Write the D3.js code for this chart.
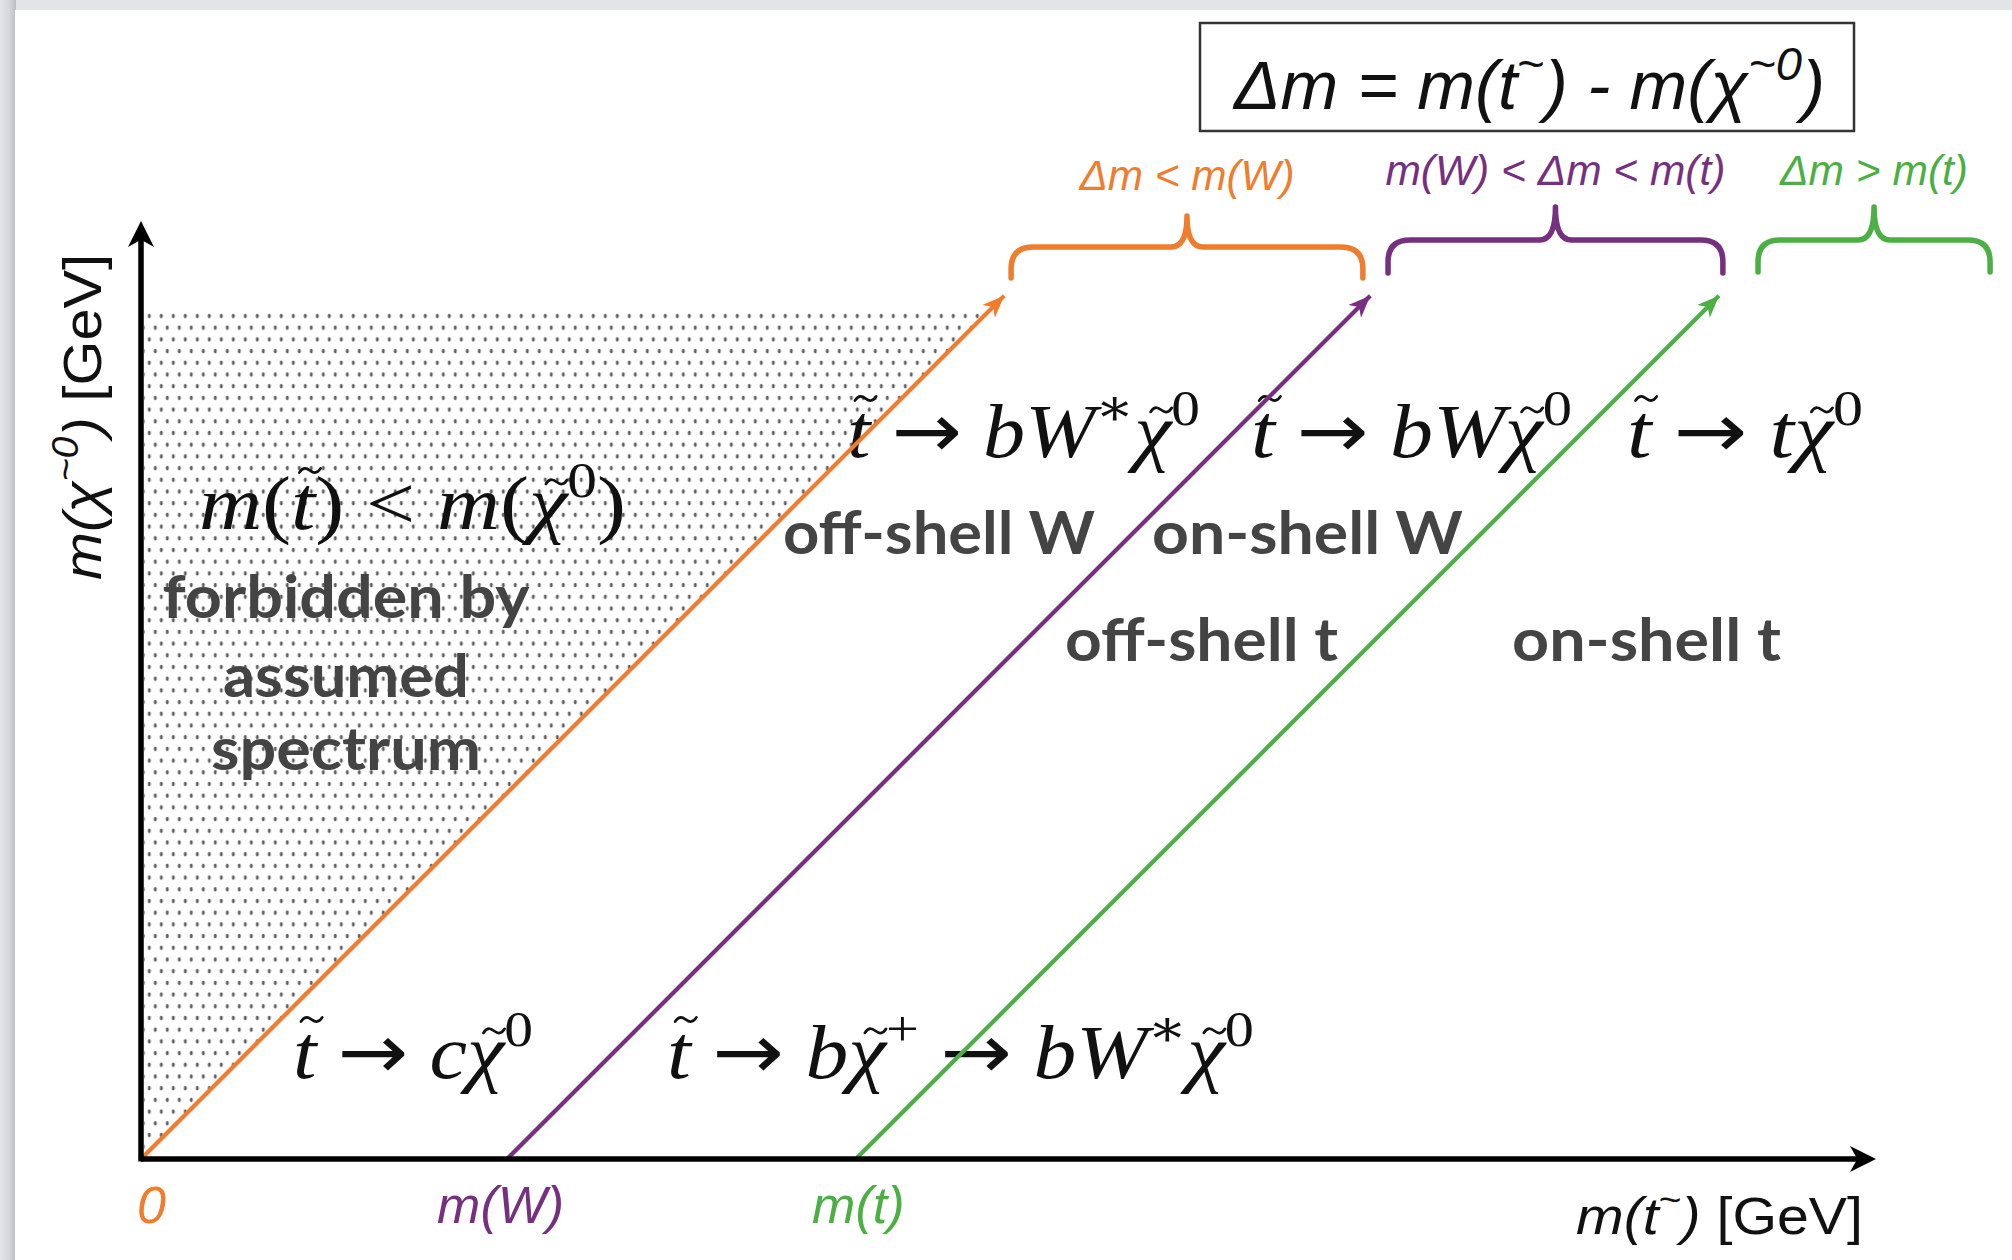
<!DOCTYPE html>
<html>
<head>
<meta charset="utf-8">
<script src="https://cdn.jsdelivr.net/npm/d3@7"></script>
<style>
  html, body { margin: 0; padding: 0; background: #dfe2e5; }
  svg { display: block; }
</style>
</head>
<body>
<svg id="chart" width="2012" height="1260"></svg>
<script>
// ---------------- data (schematic GeV-like units) ----------------
const regionLabels = ["Δm < m(W)", "m(W) < Δm < m(t)", "Δm > m(t)"];
const lineOffsets = [0, 84.4, 164.8];          // x-intercepts: 0, m(W), m(t)
const tickLabels = ["0", "m(W)", "m(t)"];
const lineTop = 199;                            // m(chi) where the diagonals end
const forbiddenTop = 195.3;                     // top of the forbidden (dotted) triangle
const braceRanges = [[200.6, 281.7], [287.5, 364.7], [372.8, 426.3]];
const colors = ["#ef7d2d", "#76307f", "#4caf44"];

// ---------------- setup ----------------
const svg = d3.select("#chart");
const X0 = 141, X1 = 1876, Y0 = 1159, YT = 221;
const x = d3.scaleLinear().domain([0, 400]).range([X0, X1]);
const k = (X1 - X0) / 400;
const y = d3.scaleLinear().domain([0, (Y0 - YT) / k]).range([Y0, YT]);

const defs = svg.append("defs");
const lg = defs.append("linearGradient").attr("id", "leftShade").attr("x1", 0).attr("x2", 1).attr("y1", 0).attr("y2", 0);
lg.append("stop").attr("offset", "0%").attr("stop-color", "#e3e5e8");
lg.append("stop").attr("offset", "60%").attr("stop-color", "#d3d6da");
lg.append("stop").attr("offset", "100%").attr("stop-color", "#b9bdc2");
const pat = defs.append("pattern").attr("id", "dots").attr("patternUnits", "userSpaceOnUse")
  .attr("x", 147.3).attr("y", 313).attr("width", 12).attr("height", 23.4);
pat.append("ellipse").attr("cx", 2).attr("cy", 3).attr("rx", 1.5).attr("ry", 2.3).attr("fill", "#5c5c5c");
pat.append("ellipse").attr("cx", 8).attr("cy", 14.7).attr("rx", 1.5).attr("ry", 2.3).attr("fill", "#5c5c5c");

// background / slide panel
svg.append("rect").attr("x", 0).attr("y", 0).attr("width", 2012).attr("height", 1260).attr("fill", "#e2e4e7");
svg.append("rect").attr("x", 0).attr("y", 0).attr("width", 16).attr("height", 1260).attr("fill", "url(#leftShade)");
svg.append("rect").attr("x", 15).attr("y", 10).attr("width", 1997).attr("height", 1250).attr("fill", "#ffffff");

// ---------------- forbidden region ----------------
svg.append("path")
  .attr("d", d3.line()([[x(0) + 3, y(0)], [x(0) + 3, y(forbiddenTop)], [x(forbiddenTop), y(forbiddenTop)], [x(0), y(0)]]))
  .attr("fill", "url(#dots)");

// ---------------- math text helper ----------------
// parts: [string, style, accent]; style: "i" italic, "r" roman, "s" sup roman, "si" sup italic, "a" arrow
// accent: "t" / "x" = draw a tilde over the first char of this part (tall / short letter)
function tildePath(cx, cy, w, h) {
  const p = d3.path();
  p.moveTo(cx - w / 2, cy + h * 0.55);
  p.bezierCurveTo(cx - w * 0.3, cy - h * 1.3, cx - w * 0.1, cy - h * 0.4, cx, cy);
  p.bezierCurveTo(cx + w * 0.1, cy + h * 0.4, cx + w * 0.3, cy + h * 1.3, cx + w / 2, cy - h * 0.55);
  return p.toString();
}
function mathText(parent, px, py, size, parts, opts = {}) {
  const fam = opts.family || "'Liberation Serif', 'DejaVu Serif', serif";
  const t = parent.append("text").attr("x", px).attr("y", py)
    .attr("font-family", fam)
    .attr("font-size", size).attr("fill", opts.fill || "#111")
    .attr("text-anchor", opts.anchor || "start");
  let raised = 0, idx = 0;
  const accents = [];
  parts.forEach(([s, st, acc]) => {
    const sp = t.append("tspan").text(s);
    const isSup = st.startsWith("s");
    const italic = st.endsWith("i");
    sp.attr("font-style", italic ? "italic" : "normal");
    if (st === "a") sp.attr("font-family", "'DejaVu Sans', sans-serif");
    if (isSup) {
      sp.attr("font-size", size * 0.68);
      const shift = size * 0.42;
      if (!raised) { sp.attr("dy", -shift); raised = shift; }
    } else {
      sp.attr("font-size", size);
      if (raised) { sp.attr("dy", raised); raised = 0; }
    }
    if (acc) accents.push([idx, acc]);
    idx += s.length;
  });
  if (opts.len) t.attr("textLength", opts.len).attr("lengthAdjust", "spacingAndGlyphs");
  accents.forEach(([ci, kind]) => {
    let ext;
    try { ext = t.node().getExtentOfChar(ci); } catch (e) { return; }
    const skew = kind === "t" ? 0.09 : 0.11;
    const rise = kind === "t" ? 0.77 : 0.62;
    const cx = ext.x + ext.width / 2 + size * skew;
    const cy = py - size * rise;
    parent.append("path").attr("d", tildePath(cx, cy, size * 0.28, size * 0.05))
      .attr("fill", "none").attr("stroke", opts.fill || "#111")
      .attr("stroke-width", size * 0.035).attr("stroke-linecap", "round");
  });
  return t;
}

const gText = svg.append("g");
const A = ["\u2005\u2192\u2005", "a"];
// decay-mode labels (LaTeX style)
mathText(gText, 847, 457, 76, [["t", "i", "t"], A, ["bW", "i"], ["\u2217", "s"], ["\u03C7", "i", "x"], ["0", "s"]], {len: 353});
mathText(gText, 1251, 457, 76, [["t", "i", "t"], A, ["bW", "i"], ["\u03C7", "i", "x"], ["0", "s"]], {len: 321});
mathText(gText, 1627, 457, 76, [["t", "i", "t"], A, ["t", "i"], ["\u03C7", "i", "x"], ["0", "s"]], {len: 236});
mathText(gText, 199, 529, 76, [["m", "i"], ["(", "r"], ["t", "i", "t"], [")", "r"], ["\u2005<\u2005", "r"], ["m", "i"], ["(", "r"], ["\u03C7", "i", "x"], ["0", "s"], [")", "r"]], {len: 427});
mathText(gText, 293, 1078, 76, [["t", "i", "t"], A, ["c", "i"], ["\u03C7", "i", "x"], ["0", "s"]], {len: 240});
mathText(gText, 667, 1078, 76, [["t", "i", "t"], A, ["b", "i"], ["\u03C7", "i", "x"], ["+", "s"], A, ["bW", "i"], ["\u2217", "s"], ["\u03C7", "i", "x"], ["0", "s"]], {len: 587});

// bold region descriptions
const bold = [
  ["forbidden by", 346, 618, "middle", 367],
  ["assumed", 346, 697, "middle", 246],
  ["spectrum", 346, 770, "middle", 270],
  ["off-shell W", 783, 554, "start", 312],
  ["on-shell W", 1152, 554, "start", 311],
  ["off-shell t", 1065, 661, "start", 273],
  ["on-shell t", 1512, 661, "start", 269]
];
bold.forEach(([s, px, py, anchor, len]) => {
  gText.append("text").attr("x", px).attr("y", py).attr("text-anchor", anchor)
    .attr("font-family", "Lato, 'Open Sans', sans-serif").attr("font-weight", 700)
    .attr("font-size", 60).attr("fill", "#444444")
    .attr("textLength", len).attr("lengthAdjust", "spacingAndGlyphs").text(s);
});

// ---------------- diagonal lines ----------------
function arrowHead(g, tx, ty, angle, len, half, color) {
  g.append("path")
    .attr("d", `M0,0 L${-len},${-half} L${-len * 0.72},0 L${-len},${half} Z`)
    .attr("transform", `translate(${tx},${ty}) rotate(${angle})`)
    .attr("fill", color);
}
const gLines = svg.append("g");
const line = d3.line().x(d => x(d[0])).y(d => y(d[1]));
lineOffsets.forEach((d, i) => {
  const pts = [[d, 0], [d + lineTop, lineTop]];
  gLines.append("path").attr("d", line(pts)).attr("stroke", colors[i])
    .attr("stroke-width", 4.2).attr("fill", "none");
  const ang = Math.atan2(y(lineTop) - y(0), x(d + lineTop) - x(d)) * 180 / Math.PI;
  arrowHead(gLines, x(d + lineTop), y(lineTop), ang, 22, 9, colors[i]);
});

// ---------------- axes ----------------
const gAx = svg.append("g");
gAx.append("line").attr("x1", X0).attr("y1", Y0).attr("x2", X1 - 8).attr("y2", Y0).attr("stroke", "#000").attr("stroke-width", 5.5);
gAx.append("line").attr("x1", X0).attr("y1", Y0 + 2.5).attr("x2", X0).attr("y2", YT + 8).attr("stroke", "#000").attr("stroke-width", 5.5);
arrowHead(gAx, X1, Y0, 0, 26, 13, "#000");
arrowHead(gAx, X0, YT, -90, 26, 13, "#000");

// tick labels via d3 axis
const xAxis = d3.axisBottom(x).tickValues(lineOffsets).tickSize(0)
  .tickFormat((d, i) => tickLabels[i]);
const gx = svg.append("g").attr("transform", `translate(0,${Y0})`).call(xAxis);
gx.select(".domain").remove();
gx.selectAll(".tick text")
  .attr("dy", null).attr("y", 64)
  .attr("dx", (d, i) => [10, -7, 2][i])
  .attr("font-family", "'Liberation Sans', Arial, sans-serif")
  .attr("font-style", "italic").attr("font-size", 52)
  .attr("fill", (d, i) => colors[i]);

// axis titles
mathText(svg, 1576, 1234, 52, [["m(t", "i"], ["~", "s"], [") ", "i"], ["[GeV]", "r"]],
  {family: "'Liberation Sans', Arial, sans-serif", len: 287});
const yl = svg.append("g").attr("transform", "translate(101,417) rotate(-90)");
mathText(yl, 0, 0, 54, [["m(\u03C7", "i"], ["~0", "si"], [") ", "i"], ["[GeV]", "r"]],
  {family: "'Liberation Sans', Arial, sans-serif", anchor: "middle", len: 326});

// ---------------- definition box ----------------
svg.append("rect").attr("x", 1200).attr("y", 23).attr("width", 654).attr("height", 108)
  .attr("fill", "none").attr("stroke", "#333").attr("stroke-width", 2.5);
mathText(svg, 1234, 109, 68, [["\u0394m = m(t", "i"], ["~", "s"], [") - m(\u03C7", "i"], ["~0", "si"], [")", "i"]],
  {family: "'Liberation Sans', Arial, sans-serif", len: 591});

// ---------------- braces ----------------
const braceY = [[278, 247, 216], [273, 240, 207], [272, 240, 207]];
const braceLabelY = [190, 185, 185];
const braceLabelLen = [215, 340, 188];
function bracePath(x0, x1, yEnd, yh, yTip) {
  const r = 22, rt = 16, xm = (x0 + x1) / 2;
  const p = d3.path();
  p.moveTo(x0, yEnd);
  p.lineTo(x0, yh + r);
  p.quadraticCurveTo(x0, yh, x0 + r, yh);
  p.lineTo(xm - rt, yh);
  p.quadraticCurveTo(xm, yh, xm, yTip);
  p.quadraticCurveTo(xm, yh, xm + rt, yh);
  p.lineTo(x1 - r, yh);
  p.quadraticCurveTo(x1, yh, x1, yh + r);
  p.lineTo(x1, yEnd);
  return p.toString();
}
braceRanges.forEach((br, i) => {
  const [yEnd, yh, yTip] = braceY[i];
  svg.append("path").attr("d", bracePath(x(br[0]), x(br[1]), yEnd, yh, yTip))
    .attr("fill", "none").attr("stroke", colors[i]).attr("stroke-width", 5.5)
    .attr("stroke-linecap", "round").attr("stroke-linejoin", "round");
  svg.append("text").attr("x", (x(br[0]) + x(br[1])) / 2).attr("y", braceLabelY[i])
    .attr("text-anchor", "middle").attr("font-family", "'Liberation Sans', Arial, sans-serif")
    .attr("font-style", "italic").attr("font-size", 42).attr("fill", colors[i])
    .attr("textLength", braceLabelLen[i]).attr("lengthAdjust", "spacingAndGlyphs")
    .text(regionLabels[i]);
});
</script>
</body>
</html>
